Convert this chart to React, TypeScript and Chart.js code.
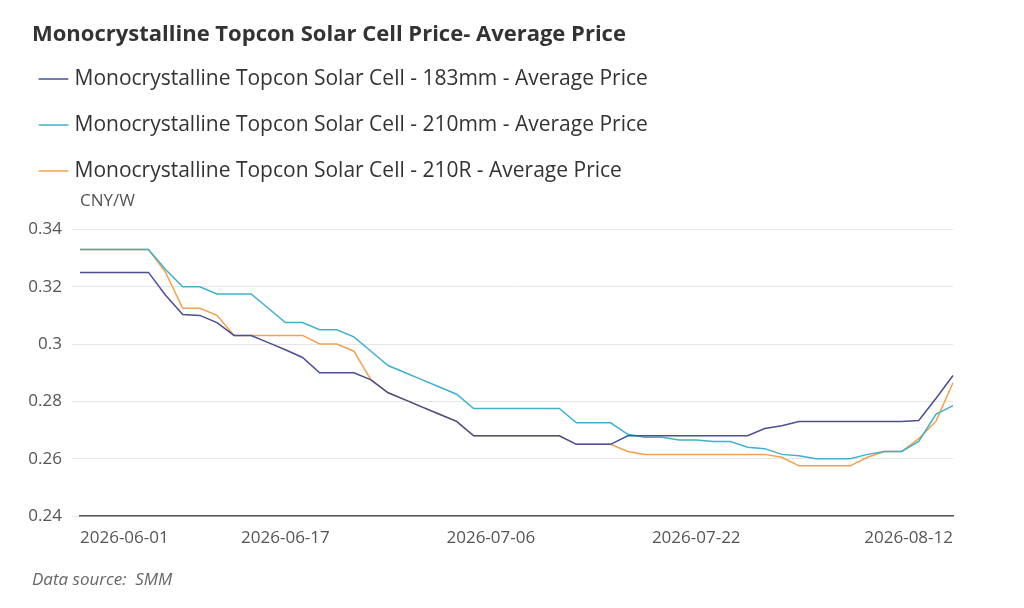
import React, { useEffect, useRef } from "react";
import { Chart, registerables } from "chart.js";
Chart.register(...registerables);

const dates: string[] = [
  "2026-06-01","2026-06-02","2026-06-03","2026-06-04","2026-06-05",
  "2026-06-08","2026-06-09","2026-06-10","2026-06-11","2026-06-12",
  "2026-06-15","2026-06-16","2026-06-17","2026-06-18",
  "2026-06-22","2026-06-23","2026-06-24","2026-06-25","2026-06-26",
  "2026-06-29","2026-06-30","2026-07-01","2026-07-02","2026-07-03",
  "2026-07-06","2026-07-07","2026-07-08","2026-07-09","2026-07-10",
  "2026-07-13","2026-07-14","2026-07-15","2026-07-16","2026-07-17",
  "2026-07-20","2026-07-21","2026-07-22","2026-07-23","2026-07-24",
  "2026-07-27","2026-07-28","2026-07-29","2026-07-30","2026-07-31",
  "2026-08-03","2026-08-04","2026-08-05","2026-08-06","2026-08-07",
  "2026-08-10","2026-08-11","2026-08-12",
];
const shownTicks = ["2026-06-01", "2026-06-17", "2026-07-06", "2026-07-22", "2026-08-12"];
const TITLE = "Monocrystalline Topcon Solar Cell Price- Average Price";

const p183: number[] = [
  0.325,0.325,0.325,0.325,0.325,0.317,0.3103,0.310,0.3075,0.303,
  0.303,0.3005,0.298,0.2953,0.290,0.290,0.290,0.2875,0.283,0.2805,
  0.278,0.2755,0.273,0.268,0.268,0.268,0.268,0.268,0.268,0.265,
  0.265,0.265,0.268,0.268,0.268,0.268,0.268,0.268,0.268,0.268,
  0.2705,0.2715,0.273,0.273,0.273,0.273,0.273,0.273,0.273,0.2733,
  0.281,0.289,
];
const p210: number[] = [
  0.333,0.333,0.333,0.333,0.333,0.326,0.320,0.320,0.3175,0.3175,
  0.3175,0.3125,0.3075,0.3075,0.305,0.305,0.3025,0.2975,0.2925,0.290,
  0.2875,0.285,0.2825,0.2775,0.2775,0.2775,0.2775,0.2775,0.2775,0.2725,
  0.2725,0.2725,0.2685,0.2675,0.2675,0.2665,0.2665,0.266,0.266,0.264,
  0.2635,0.2615,0.261,0.260,0.260,0.260,0.2615,0.2625,0.2625,0.266,
  0.2755,0.2785,
];
const p210R: number[] = [
  0.333,0.333,0.333,0.333,0.333,0.325,0.3125,0.3125,0.310,0.303,
  0.303,0.303,0.303,0.303,0.300,0.300,0.2975,0.2875,0.283,0.2805,
  0.278,0.2755,0.273,0.268,0.268,0.268,0.268,0.268,0.268,0.265,
  0.265,0.265,0.2625,0.2615,0.2615,0.2615,0.2615,0.2615,0.2615,0.2615,
  0.2615,0.2605,0.2575,0.2575,0.2575,0.2575,0.2605,0.2625,0.2625,0.267,
  0.273,0.2865,
];

const FONT = "'Open Sans', 'Noto Sans', sans-serif";

export default function App() {
  const ref = useRef<HTMLCanvasElement>(null);
  useEffect(() => {
    const legendGap = {
      id: "legendGap",
      beforeInit(chart: any) {
        const orig = chart.legend.fit;
        chart.legend.fit = function () {
          orig.bind(chart.legend)();
          this.height += 38;
        };
      },
    };
    const extras = {
      id: "extras",
      afterDraw(chart: any) {
        const ctx = chart.ctx;
        const x = chart.scales.x;
        const y = chart.scales.y;
        ctx.save();
        ctx.font = `bold 22px ${FONT}`;
        ctx.fillStyle = "#333";
        ctx.textAlign = "left";
        ctx.textBaseline = "middle";
        ctx.fillText(TITLE, 24, 27);
        ctx.font = `17px ${FONT}`;
        ctx.fillStyle = "#555";
        ctx.textBaseline = "alphabetic";
        ctx.fillText("CNY/W", x.left, y.top - 23);
        dates.forEach((d, i) => {
          if (!shownTicks.includes(d)) return;
          const px = x.getPixelForValue(i);
          ctx.textAlign = i === 0 ? "left" : i === dates.length - 1 ? "right" : "center";
          ctx.fillText(d, px, y.bottom + 27);
        });
        ctx.font = `italic 17px ${FONT}`;
        ctx.fillStyle = "#666";
        ctx.textAlign = "left";
        ctx.fillText("Data source:  SMM", 24, y.bottom + 69);
        ctx.restore();
      },
    };
    const mk = (label: string, data: number[], color: string) => ({
      label, data, borderColor: color, backgroundColor: color,
      borderWidth: 1.5, pointRadius: 0, tension: 0,
    });
    const chart = new Chart(ref.current!, {
      type: "line",
      data: {
        labels: dates,
        datasets: [
          mk("Monocrystalline Topcon Solar Cell - 183mm - Average Price", p183, "#4a4f96"),
          mk("Monocrystalline Topcon Solar Cell - 210mm - Average Price", p210, "#3fb1ce"),
          mk("Monocrystalline Topcon Solar Cell - 210R - Average Price", p210R, "#f4a04d"),
        ],
      },
      options: {
        animation: false,
        responsive: false,
        layout: { padding: { left: 10, right: 63, bottom: 84, top: 0 } },
        plugins: {
          title: {
            display: true, text: TITLE,
            align: "start", color: "rgba(0,0,0,0)",
            font: { family: FONT, size: 22, weight: "bold" },
            padding: { top: 16, bottom: -7 },
          },
          legend: {
            align: "start",
            labels: {
              usePointStyle: true, pointStyle: "line", boxWidth: 30,
              color: "#333", font: { family: FONT, size: 21 }, padding: 25,
            },
          },
          tooltip: { enabled: false },
        },
        scales: {
          x: {
            grid: { display: false },
            border: { color: "#555", width: 1.5 },
            ticks: { display: false },
            afterFit: (s: any) => { s.height = 0; },
          },
          y: {
            min: 0.24, max: 0.34,
            afterFit: (s: any) => { s.width = 62; },
            grid: { color: "#e6e6e6" },
            border: { display: false },
            ticks: {
              stepSize: 0.02, color: "#555", font: { family: FONT, size: 17 }, padding: 10,
              callback: (v: any) => String(Math.round(Number(v) * 100) / 100),
            },
          },
        },
      },
      plugins: [extras, legendGap],
    } as any);
    return () => chart.destroy();
  }, []);
  return <canvas ref={ref} width={1008} height={592} />;
}
